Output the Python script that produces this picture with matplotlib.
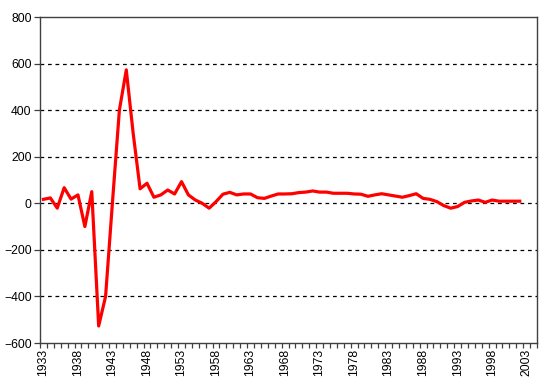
import matplotlib.pyplot as plt
from matplotlib.ticker import FixedLocator
import numpy as np

plt.rcParams['font.family'] = ['Liberation Sans', 'DejaVu Sans']

# yearly values
years = list(range(1933, 2003))
values = [17, 23, -21, 67, 18, 36, -100, 50, -527, -400,
          5, 400, 573, 300, 62, 86, 26, 36, 57, 40,
          93, 36, 14, 0, -21, 7, 39, 47, 36, 40,
          40, 24, 21, 31, 40, 40, 41, 46, 48, 53,
          48, 48, 43, 43, 43, 40, 39, 30, 36, 41,
          36, 31, 26, 33, 41, 21, 17, 7, -10, -21,
          -14, 4, 10, 14, 4, 14, 9, 9, 9, 9]
tick_years = list(range(1933, 2004, 5))
y_ticks = [-600, -400, -200, 0, 200, 400, 600, 800]

fig = plt.figure(figsize=(5.51, 3.92), dpi=100)
ax = fig.add_axes([40/551, 1 - 343/392, 497/551, 326/392])

ax.plot(years, values, color='#ff0000', lw=2.3, solid_joinstyle='round', zorder=3)

# category axis: one slot per year, 1933..2004
ax.set_xlim(1932.5, 2004.5)
ax.set_ylim(-600, 800)
ax.xaxis.set_major_locator(FixedLocator(tick_years))
ax.set_xticklabels([str(y) for y in tick_years], rotation=90, fontsize=8.7)
ax.xaxis.set_minor_locator(FixedLocator(np.arange(1932.5, 2005, 1.0)))
ax.tick_params(axis='x', which='major', length=0, pad=4)
ax.tick_params(axis='x', which='minor', length=3.5, width=0.9, color='#404040', direction='out')

ax.set_yticks(y_ticks)
ax.tick_params(axis='y', length=4, width=0.9, color='#404040', labelsize=8.7, pad=2)

for g in y_ticks[1:-1]:
    ax.axhline(g, color='black', lw=0.9, ls=(0, (3, 3)), zorder=1)

for s in ax.spines.values():
    s.set_color('#404040')
    s.set_linewidth(1.0)

fig.savefig('out.png', dpi=100)
